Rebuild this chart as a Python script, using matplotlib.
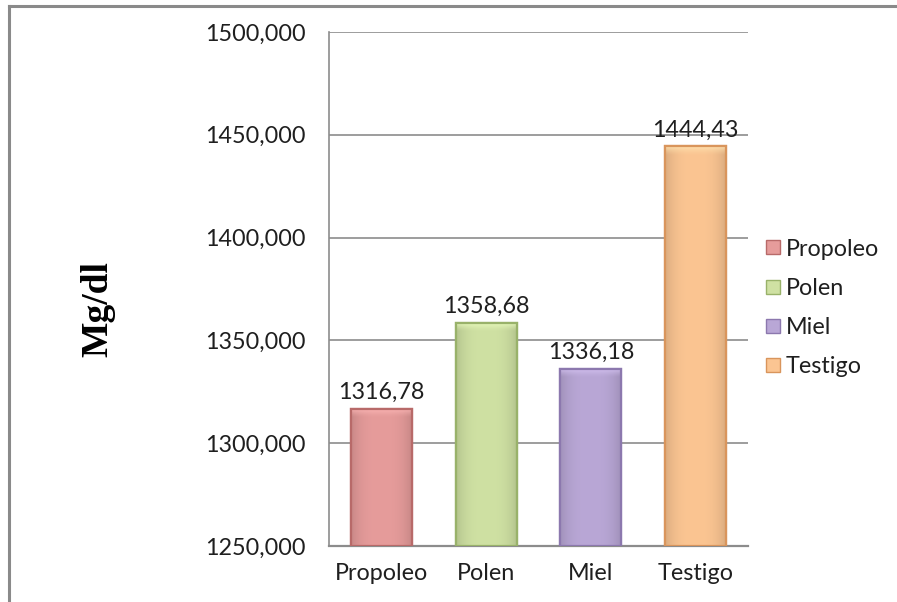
import numpy as np
import matplotlib
matplotlib.use("Agg")
import matplotlib.pyplot as plt
from matplotlib.patches import Rectangle, Patch
from matplotlib.lines import Line2D
from matplotlib.colors import to_rgb

categories = ["Propoleo", "Polen", "Miel", "Testigo"]
values = [1316.78, 1358.68, 1336.18, 1444.43]
value_labels = ["1316,78", "1358,68", "1336,18", "1444,43"]
yticks = [1250, 1300, 1350, 1400, 1450, 1500]
ytick_labels = ["1250,000", "1300,000", "1350,000", "1400,000", "1450,000", "1500,000"]
colors = ["#E69C9B", "#CFE1A3", "#B9A7D6", "#FBC592"]
edge_colors = ["#B86A69", "#99B26A", "#8C78AE", "#D9955C"]

plt.rcParams["font.family"] = ["Lato", "DejaVu Sans"]
FS = 16.8

fig = plt.figure(figsize=(8.97, 6.02), dpi=100)
fig.patch.set_facecolor("white")

# outer chart frame: top and left sides
fx, fy = 9 / 897, 1 - 6 / 602
fig.add_artist(Line2D([fx, fx], [-0.1, fy], transform=fig.transFigure,
                      color="#8a8a8a", linewidth=2.2))
fig.add_artist(Line2D([fx, 1.1], [fy, fy], transform=fig.transFigure,
                      color="#8a8a8a", linewidth=2.2))

ax = fig.add_axes([329 / 897, 1 - 546 / 602, (748 - 329) / 897, (546 - 32) / 602])
x = np.arange(len(categories))
bars = ax.bar(x, np.array(values) - yticks[0], bottom=yticks[0], width=0.58,
              color=colors, edgecolor=edge_colors, linewidth=1.6, zorder=3)

# soft bevel shading across each bar
for patch, c in zip(bars, colors):
    rgb = np.array(to_rgb(c))
    bx, by = patch.get_x(), patch.get_y()
    bw, bh = patch.get_width(), patch.get_height()
    t = np.linspace(0, 1, 64)
    prof = 1 - 0.13 * (np.abs(t - 0.5) * 2) ** 3
    img = np.clip(rgb[None, None, :] * prof[None, :, None], 0, 1)
    img = np.repeat(img, 2, axis=0)
    im = ax.imshow(img, extent=[bx, bx + bw, by, by + bh], aspect="auto",
                   zorder=3.5, interpolation="bilinear")
    im.set_clip_path(patch)
    # lighter strip at the top edge
    top = np.linspace(1, 0, 16)
    timg = np.ones((16, 2, 4))
    timg[..., :3] = np.clip(rgb + 0.12, 0, 1)
    timg[..., 3] = np.repeat(top[:, None] ** 1.5 * 0.9, 2, axis=1)
    im2 = ax.imshow(timg, extent=[bx, bx + bw, by + bh - 4.5, by + bh],
                    aspect="auto", zorder=3.6, interpolation="bilinear")
    im2.set_clip_path(patch)
    ax.add_patch(Rectangle((bx, by), bw, bh, fill=False,
                           edgecolor=patch.get_edgecolor(), linewidth=1.6, zorder=3.7))

for xi, v, lab in zip(x, values, value_labels):
    ax.annotate(lab, (xi, v), xytext=(0, 4), textcoords="offset points",
                ha="center", va="bottom", fontsize=FS, color="#1f1f1f")

ax.set_xlim(-0.5, len(categories) - 0.5)
ax.set_ylim(yticks[0], yticks[-1])
ax.set_yticks(yticks)
ax.set_yticklabels(ytick_labels)
ax.set_xticks(x)
ax.set_xticklabels(categories)
ax.tick_params(axis="both", length=0, labelsize=FS, colors="#1f1f1f")
ax.tick_params(axis="y", pad=17)
ax.tick_params(axis="x", pad=12)
ax.grid(axis="y", color="#8c8c8c", linewidth=1.2, zorder=0)
for s in ["top", "right"]:
    ax.spines[s].set_visible(False)
ax.spines["left"].set_color("#8c8c8c")
ax.spines["left"].set_linewidth(1.2)
ax.spines["bottom"].set_color("#8c8c8c")
ax.spines["bottom"].set_linewidth(1.6)

fig.text(98 / 897, 1 - 309 / 602, "Mg/dl", rotation=90, ha="center", va="center",
         fontsize=27, fontweight="bold", family=["Liberation Serif", "DejaVu Serif"])

handles = [Patch(facecolor=c, edgecolor=e, linewidth=1) for c, e in zip(colors, edge_colors)]
fig.legend(handles, categories, loc="center left", bbox_to_anchor=(745 / 897, 1 - 308 / 602),
           frameon=False, fontsize=FS, labelspacing=0.78, handlelength=0.6,
           handleheight=0.55, handletextpad=0.25, labelcolor="#1f1f1f")

fig.savefig("out.png", dpi=100, facecolor="white")
